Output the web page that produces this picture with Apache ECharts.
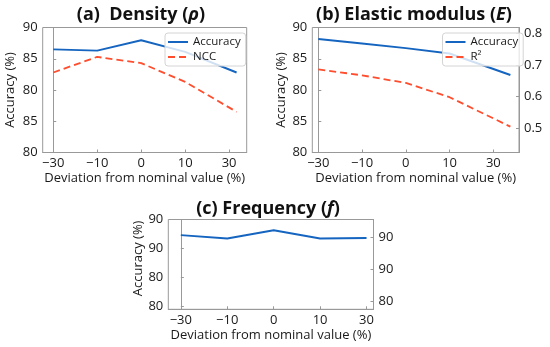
<!DOCTYPE html>
<html><head><meta charset="utf-8">
<script src="https://cdn.jsdelivr.net/npm/echarts@6/dist/echarts.min.js"></script>
<style>html,body{margin:0;padding:0;background:#fff}#c{width:550px;height:347px}</style>
</head><body><div id="c"></div>
<script>
// tick positions/labels
const xTickPos = [0, 1, 2, 3, 4];
const xTickLabels = ['\u221230', '\u221210', '0', '10', '30'];
const yTickValsAB = [70, 75, 80, 85, 90];
const yTickLabelsAB = ['80', '85', '80', '85', '90'];
const r2TickVals = [0.5, 0.6, 0.7, 0.8];
const r2TickLabels = ['0.5', '0.6', '0.7', '0.8'];
const yTickValsCLeft = [80, 85, 90, 95];
const yTickLabelsCLeft = ['80', '80', '90', '90'];
const yTickValsCRight = [80, 85, 90];
const yTickLabelsCRight = ['80', '90', '90'];

// (a) Density
const xA = [0, 1, 2, 3, 4.17];
const accA = [86.5, 86.3, 87.95, 86.1, 82.8];
const nccA = [82.8, 85.3, 84.3, 81.3, 76.5];
// (b) Elastic modulus
const xB = [0, 1, 2, 3, 4.39];
const accB = [88.15, 87.45, 86.7, 85.85, 82.4];
const r2B = [0.686, 0.667, 0.643, 0.598, 0.505];
// (c) Frequency
const xC = [0, 1, 2, 3, 4];
const accC = [92.3, 91.7, 93.15, 91.7, 91.8];

const FONT = 'Open Sans';
const BLUE = '#1565c0';
const RED = '#ff4d2e';
const GRAY = '#999';
const TXT = '#1a1a1a';

function lab(vals, labels) {
  return v => { const i = vals.findIndex(t => Math.abs(t - v) < 1e-6); return i >= 0 ? labels[i] : ''; };
}
function pairs(xs, ys) { return xs.map((x, i) => [x, ys[i]]); }

function xAxisCfg(g, min, max) {
  return {
    type: 'value', gridIndex: g, min: min, max: max,
    axisLine: { show: true, lineStyle: { color: GRAY } },
    axisTick: { show: true, inside: true, length: 3, customValues: xTickPos, lineStyle: { color: GRAY } },
    axisLabel: { customValues: xTickPos, formatter: lab(xTickPos, xTickLabels), fontSize: 13, color: TXT, fontFamily: FONT, margin: 4 },
    splitLine: { show: false },
    name: 'Deviation from nominal value (%)', nameLocation: 'middle', nameGap: 19,
    nameTextStyle: { fontSize: 13, color: TXT, fontFamily: FONT }
  };
}
function yAxisCfg(g, pos, min, max, vals, labels, name, gap, namePad) {
  const a = {
    type: 'value', gridIndex: g, position: pos, min: min, max: max,
    axisLine: { show: true, lineStyle: { color: GRAY } },
    axisTick: { show: true, inside: true, length: 3, customValues: vals, lineStyle: { color: GRAY } },
    axisLabel: { customValues: vals, formatter: lab(vals, labels), fontSize: 13, color: TXT, fontFamily: FONT, margin: 5 },
    splitLine: { show: false }
  };
  if (name) {
    a.name = name; a.nameLocation = 'middle'; a.nameGap = gap;
    a.nameTextStyle = { fontSize: 13, color: TXT, fontFamily: FONT, padding: namePad || 0 };
  }
  return a;
}
const titleStyle = { fontSize: 18, fontWeight: 'bold', fontFamily: FONT, color: '#111',
  rich: { i: { fontSize: 18, fontWeight: 'bold', fontStyle: 'italic', fontFamily: FONT, color: '#111' } } };
function legendCfg(names, left, top) {
  return {
    data: names, left: left, top: top, orient: 'vertical',
    itemWidth: 20, itemHeight: 12, itemGap: 3, padding: [3, 5, 3, 2],
    backgroundColor: 'rgba(255,255,255,0.8)', borderColor: '#d4d4d4', borderWidth: 1, borderRadius: 3,
    itemStyle: { opacity: 0 },
    textStyle: { fontSize: 11.5, fontFamily: FONT, color: TXT }
  };
}

const chart = echarts.init(document.getElementById('c'), null, { renderer: 'canvas' });
chart.setOption({
  animation: false,
  backgroundColor: '#fff',
  title: [
    { text: '(a)  Density ({i|\u03c1})', left: 141, top: 5.5, textAlign: 'center', padding: 0, textStyle: titleStyle },
    { text: '(b) Elastic modulus ({i|E})', left: 414, top: 5.5, textAlign: 'center', padding: 0, textStyle: titleStyle },
    { text: '(c) Frequency ({i|f})', left: 268, top: 199.5, textAlign: 'center', padding: 0, textStyle: titleStyle }
  ],
  legend: [
    legendCfg(['Accuracy', 'NCC'], 165, 33),
    legendCfg(['Accuracy', 'R\u00b2'], 442.5, 33)
  ],
  grid: [
    { left: 42.7, top: 27.5, width: 204, height: 125, show: true, borderColor: GRAY, borderWidth: 1 },
    { left: 312.3, top: 27.5, width: 206.7, height: 125, show: true, borderColor: GRAY, borderWidth: 1 },
    { left: 168.3, top: 219.5, width: 205.2, height: 89.8, show: true, borderColor: GRAY, borderWidth: 1 }
  ],
  xAxis: [
    xAxisCfg(0, -0.24, 4.4),
    xAxisCfg(1, -0.137, 4.587),
    xAxisCfg(2, -0.27, 4.15)
  ],
  yAxis: [
    yAxisCfg(0, 'left', 70, 90, yTickValsAB, yTickLabelsAB, 'Accuracy (%)', 26),
    yAxisCfg(1, 'left', 70, 90, yTickValsAB, yTickLabelsAB, 'Accuracy (%)', 25),
    yAxisCfg(1, 'right', 0.4234, 0.818, r2TickVals, r2TickLabels, null, 0),
    yAxisCfg(2, 'left', 79.48, 95, yTickValsCLeft, yTickLabelsCLeft, 'Accuracy (%)', 22, [0, 0, 0, 12]),
    yAxisCfg(2, 'right', 78.81, 92.84, yTickValsCRight, yTickLabelsCRight, null, 0)
  ],
  series: [
    { name: 'Accuracy', type: 'line', xAxisIndex: 0, yAxisIndex: 0, data: pairs(xA, accA), symbol: 'none',
      lineStyle: { color: BLUE, width: 2 }, itemStyle: { color: BLUE } },
    { name: 'NCC', type: 'line', xAxisIndex: 0, yAxisIndex: 0, data: pairs(xA, nccA), symbol: 'none',
      lineStyle: { color: RED, width: 1.8, type: [7, 4] }, itemStyle: { color: RED } },
    { name: 'Accuracy', type: 'line', xAxisIndex: 1, yAxisIndex: 1, data: pairs(xB, accB), symbol: 'none',
      lineStyle: { color: BLUE, width: 2 }, itemStyle: { color: BLUE } },
    { name: 'R\u00b2', type: 'line', xAxisIndex: 1, yAxisIndex: 2, data: pairs(xB, r2B), symbol: 'none',
      lineStyle: { color: RED, width: 1.8, type: [7, 4] }, itemStyle: { color: RED } },
    { name: 'Accuracy', type: 'line', xAxisIndex: 2, yAxisIndex: 3, data: pairs(xC, accC), symbol: 'none',
      lineStyle: { color: BLUE, width: 2 }, itemStyle: { color: BLUE } }
  ]
});
</script></body></html>
